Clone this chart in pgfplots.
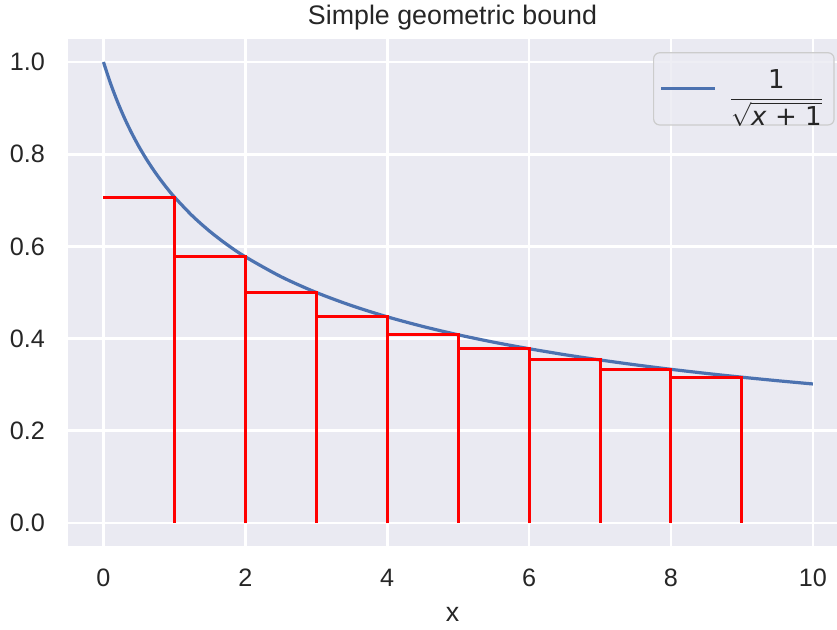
\documentclass[border=0pt]{standalone}
\usepackage{pgfplots}
\pgfplotsset{compat=1.18}
\usepackage{fontspec}
\setmainfont{Liberation Sans}
\newfontfamily\djv{DejaVu Sans}

\definecolor{sbbg}{HTML}{EAEAF2}
\definecolor{sbblue}{HTML}{4C72B0}
\definecolor{sbtext}{HTML}{262626}

\begin{document}
\begin{tikzpicture}
\begin{axis}[
    scale only axis,
    width=384.5pt, height=253.5pt,
    xmin=-0.5, xmax=10.34,
    ymin=-0.05, ymax=1.05,
    xtick={0,2,4,6,8,10},
    ytick={0,0.2,0.4,0.6,0.8,1.0},
    yticklabel style={/pgf/number format/fixed,
        /pgf/number format/fixed zerofill,
        /pgf/number format/precision=1, xshift=-8pt},
    /pgf/number format/assume math mode=true,
    ticklabel style={font=\fontsize{12.6}{14}\selectfont, text=sbtext},
    xticklabel style={yshift=-8pt},
    axis background/.style={fill=sbbg},
    axis line style={draw=none},
    major tick length=0pt,
    grid=major,
    major grid style={white, line width=1.3pt},
    xlabel={x},
    xlabel style={at={(0.5,0)}, anchor=base, yshift=-38pt,
        font=\fontsize{13.4}{15}\selectfont, text=sbtext},
    legend style={at={(0.997,0.974)}, anchor=north east,
        fill=sbbg, fill opacity=0.8, text opacity=1, draw=black!20,
        rounded corners=3pt, line width=0.6pt,
        font=\fontsize{13}{15}\selectfont, text=sbtext,
        inner xsep=3pt, inner ysep=6.5pt},
    legend cell align=left,
    legend image code/.code={\draw[#1] (0pt,0pt) -- (27pt,0pt);},
]
\addplot[sbblue, line width=1.6pt, smooth] coordinates {
    (0,1.0000) (0.1,0.9535) (0.2,0.9129) (0.3,0.8771) (0.4,0.8452)
    (0.5,0.8165) (0.6,0.7906) (0.7,0.7670) (0.8,0.7454) (0.9,0.7255)
    (1.0,0.7071) (1.25,0.6667) (1.5,0.6325) (1.75,0.6030) (2.0,0.5774)
    (2.5,0.5345) (3.0,0.5000) (3.5,0.4714) (4.0,0.4472) (4.5,0.4264)
    (5.0,0.4082) (5.5,0.3922) (6.0,0.3780) (6.5,0.3651) (7.0,0.3536)
    (7.5,0.3430) (8.0,0.3333) (8.5,0.3244) (9.0,0.3162) (9.5,0.3086)
    (10.0,0.3015)
};
\addlegendentry{\hspace{4pt}$\displaystyle\frac{\mbox{\djv 1}}{\sqrt{\mbox{\djv\textit{x} + 1}}}$}
\addplot[red, line width=1.5pt, forget plot] coordinates {
    (0,0.7071) (1,0.7071) (1,0)
    (1,0.5774) (2,0.5774) (2,0)
    (2,0.5000) (3,0.5000) (3,0)
    (3,0.4472) (4,0.4472) (4,0)
    (4,0.4082) (5,0.4082) (5,0)
    (5,0.3780) (6,0.3780) (6,0)
    (6,0.3536) (7,0.3536) (7,0)
    (7,0.3333) (8,0.3333) (8,0)
    (8,0.3162) (9,0.3162) (9,0)
};
\coordinate (bl) at (rel axis cs:0,0);
\coordinate (tr) at (rel axis cs:1,1);
\coordinate (tc) at (rel axis cs:0.5,1);
\end{axis}
\node[anchor=base, text=sbtext, font=\fontsize{13.4}{15}\selectfont]
    at ([yshift=7pt]tc) {Simple geometric bound};
\pgfresetboundingbox
\path ([xshift=-34pt,yshift=-42pt]bl) rectangle ([yshift=19.5pt]tr);
\end{tikzpicture}
\end{document}
